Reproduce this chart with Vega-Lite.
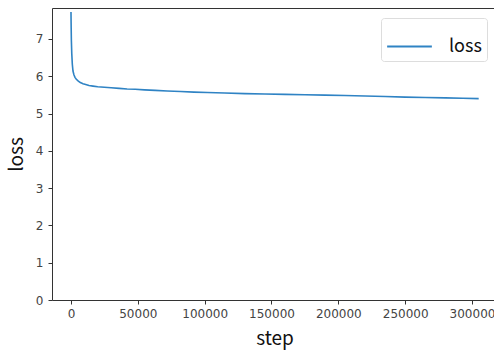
{
  "$schema": "https://vega.github.io/schema/vega-lite/v6.json",
  "autosize": "none",
  "width": 445,
  "height": 292,
  "padding": {"left": 52, "top": 8, "right": 0, "bottom": 51},
  "background": "white",
  "config": {
    "font": "Noto Sans CJK JP",
    "view": {"stroke": "#333333", "strokeWidth": 1},
    "axis": {
      "grid": false,
      "domain": false,
      "tickColor": "#333333",
      "tickSize": 4,
      "labelColor": "#444444",
      "labelFontSize": 12,
      "labelFont": "DejaVu Sans",
      "titleFont": "Noto Sans CJK JP",
      "titleFontSize": 19,
      "titleFontWeight": "normal",
      "titleColor": "#111111"
    }
  },
  "data": {
    "values": [
      {"step": 0, "loss": 7.72},
      {"step": 150, "loss": 7.3},
      {"step": 300, "loss": 6.95},
      {"step": 600, "loss": 6.6},
      {"step": 1000, "loss": 6.32},
      {"step": 1500, "loss": 6.14},
      {"step": 2200, "loss": 6.04},
      {"step": 3000, "loss": 5.97},
      {"step": 4000, "loss": 5.92},
      {"step": 5500, "loss": 5.87},
      {"step": 7000, "loss": 5.83},
      {"step": 9000, "loss": 5.8},
      {"step": 11000, "loss": 5.78},
      {"step": 13500, "loss": 5.75},
      {"step": 16500, "loss": 5.735},
      {"step": 20000, "loss": 5.72},
      {"step": 25000, "loss": 5.705},
      {"step": 30000, "loss": 5.69},
      {"step": 36000, "loss": 5.675},
      {"step": 42000, "loss": 5.66},
      {"step": 48000, "loss": 5.65},
      {"step": 55000, "loss": 5.635},
      {"step": 63000, "loss": 5.62},
      {"step": 72000, "loss": 5.605},
      {"step": 82000, "loss": 5.59},
      {"step": 92000, "loss": 5.575},
      {"step": 102000, "loss": 5.565},
      {"step": 115000, "loss": 5.55},
      {"step": 130000, "loss": 5.535},
      {"step": 145000, "loss": 5.525},
      {"step": 160000, "loss": 5.515},
      {"step": 175000, "loss": 5.505},
      {"step": 190000, "loss": 5.495},
      {"step": 205000, "loss": 5.485},
      {"step": 220000, "loss": 5.47},
      {"step": 235000, "loss": 5.455},
      {"step": 250000, "loss": 5.44},
      {"step": 265000, "loss": 5.43},
      {"step": 280000, "loss": 5.42},
      {"step": 293000, "loss": 5.41},
      {"step": 305000, "loss": 5.4}
    ]
  },
  "mark": {"type": "line", "strokeWidth": 1.6, "clip": true},
  "encoding": {
    "x": {
      "field": "step",
      "type": "quantitative",
      "title": "step",
      "scale": {"domain": [-14200, 318700], "nice": false, "zero": false},
      "axis": {"values": [0, 50000, 100000, 150000, 200000, 250000, 300000], "format": "d", "labelPadding": 4, "titleY": 44, "titleBaseline": "alphabetic"}
    },
    "y": {
      "field": "loss",
      "type": "quantitative",
      "title": "loss",
      "scale": {"domain": [0, 7.83], "nice": false},
      "axis": {"values": [0, 1, 2, 3, 4, 5, 6, 7], "labelPadding": 5, "titleX": -36, "titleBaseline": "middle"}
    },
    "color": {
      "datum": "loss",
      "scale": {"range": ["#2f83c4"]},
      "legend": {
        "title": null,
        "orient": "top-right",
        "offset": 10,
        "symbolType": "stroke",
        "symbolSize": 2000,
        "symbolStrokeWidth": 2,
        "labelFontSize": 18,
        "labelColor": "#111111",
        "labelOffset": 16,
        "strokeColor": "#dddddd",
        "cornerRadius": 3,
        "padding": 5,
        "fillColor": "white"
      }
    }
  }
}
